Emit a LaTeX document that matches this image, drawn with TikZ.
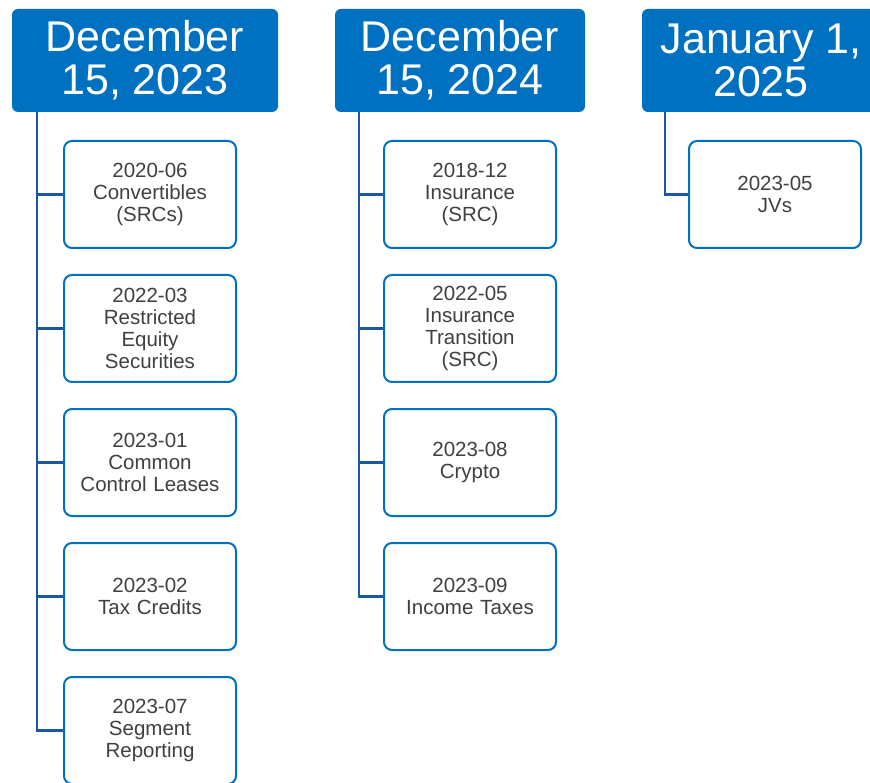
\documentclass[tikz,border=0pt]{standalone}
\usepackage{fontspec}
\setmainfont{Liberation Sans}
\usetikzlibrary{positioning}

\definecolor{hdrblue}{RGB}{0,112,192}
\definecolor{linkblue}{RGB}{28,88,160}
\definecolor{txtgray}{RGB}{64,64,64}

\tikzset{
    header/.style={rectangle, rounded corners=6pt, fill=hdrblue, text=white,
        minimum height=103pt, align=center, inner sep=0pt,
        font=\fontsize{43}{43}\selectfont},
    item/.style={rectangle, rounded corners=8pt, draw=hdrblue, line width=2pt,
        fill=white, text=txtgray, minimum width=172pt, minimum height=107pt,
        text width=165pt, align=center, inner sep=0pt,
        font=\fontsize{20.5}{22}\selectfont},
    link/.style={draw=linkblue, line width=2.4pt}
}

\begin{document}
\begin{tikzpicture}[x=1pt, y=-1pt]
    \useasboundingbox (0,0) rectangle (870,783);
    \clip (0,0) rectangle (870,783);

    % headers
    \node[header, minimum width=266pt] (d23) at (145, 60.5) {December\\15, 2023};
    \node[header, minimum width=250pt] (d24) at (460, 60.5) {December\\15, 2024};
    \node[header, minimum width=238pt] (j25) at (761, 60.5) {January 1,\\2025};

    % first column
    \node[item] (c1) at (150, 194.5) {2020-06\\Convertibles\\(SRCs)};
    \node[item] (c2) at (150, 328.5) {2022-03\\Restricted\\Equity\\Securities};
    \node[item] (c3) at (150, 462.5) {2023-01\\Common\\Control Leases};
    \node[item] (c4) at (150, 596.5) {2023-02\\Tax Credits};
    \node[item] (c5) at (150, 730.5) {2023-07\\Segment\\Reporting};

    % second column
    \node[item] (e1) at (470, 194.5) {2018-12\\Insurance\\(SRC)};
    \node[item] (e2) at (470, 328.5) {2022-05\\Insurance\\Transition\\(SRC)};
    \node[item] (e3) at (470, 462.5) {2023-08\\Crypto};
    \node[item] (e4) at (470, 596.5) {2023-09\\Income Taxes};

    % third column
    \node[item] (f1) at (775, 194.5) {2023-05\\JVs};

    % trunks
    \coordinate (t23) at (37, 112);
    \coordinate (t24) at (359, 112);
    \coordinate (t25) at (665, 112);

    \begin{scope}[link]
        \foreach \c in {c1, c2, c3, c4, c5}
            \draw (t23) |- (\c.west);
        \foreach \c in {e1, e2, e3, e4}
            \draw (t24) |- (\c.west);
        \draw (t25) |- (f1.west);
    \end{scope}
\end{tikzpicture}
\end{document}
